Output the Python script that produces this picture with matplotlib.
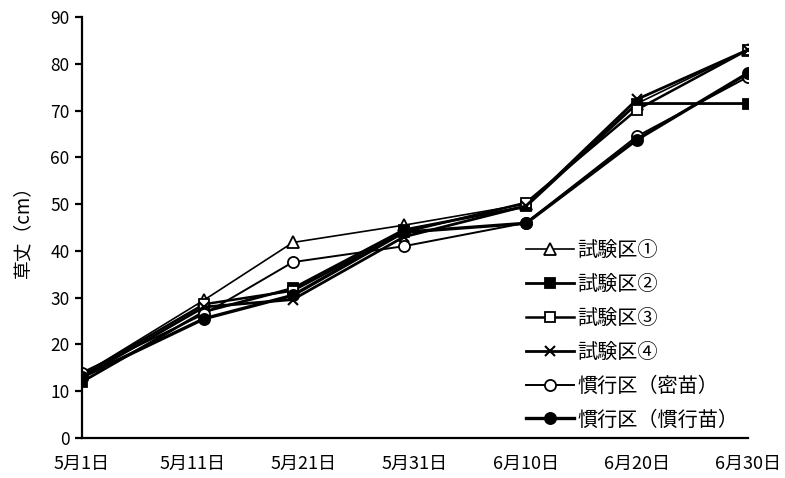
import datetime

import matplotlib

matplotlib.use("Agg")
import matplotlib.pyplot as plt

plt.rcParams["font.family"] = ["Noto Sans CJK JP", "DejaVu Sans"]

# measurement dates and plant height (cm)
dates = [
    datetime.date(2020, 5, 1),
    datetime.date(2020, 5, 12),
    datetime.date(2020, 5, 20),
    datetime.date(2020, 5, 30),
    datetime.date(2020, 6, 10),
    datetime.date(2020, 6, 20),
    datetime.date(2020, 6, 30),
]
plot1 = [13.5, 29.5, 41.8, 45.5, 50.0, 71.5, 83.0]
plot2 = [12.0, 27.0, 32.0, 44.5, 49.5, 71.5, 71.5]
plot3 = [13.5, 28.6, 31.5, 44.0, 50.3, 70.2, 83.0]
plot4 = [13.0, 28.0, 29.6, 43.0, 49.6, 72.4, 83.0]
conv_dense = [14.0, 26.5, 37.6, 41.0, 46.0, 64.5, 77.2]
conv_normal = [13.0, 25.5, 30.5, 44.0, 45.9, 63.8, 78.0]

tick_dates = [
    datetime.date(2020, 5, 1),
    datetime.date(2020, 5, 11),
    datetime.date(2020, 5, 21),
    datetime.date(2020, 5, 31),
    datetime.date(2020, 6, 10),
    datetime.date(2020, 6, 20),
    datetime.date(2020, 6, 30),
]
tick_labels = ["5月1日", "5月11日", "5月21日", "5月31日", "6月10日", "6月20日", "6月30日"]

fig = plt.figure(figsize=(7.85, 4.78), dpi=100)
ax = fig.add_axes([82 / 785, 40 / 478, 666 / 785, 421 / 478])

series = [
    (plot1, "試験区①", dict(marker="^", mfc="white", lw=1.2, ms=8)),
    (plot2, "試験区②", dict(marker="s", mfc="black", lw=2.0, ms=7.5)),
    (plot3, "試験区③", dict(marker="s", mfc="white", lw=1.8, ms=7.5)),
    (plot4, "試験区④", dict(marker="x", mfc="white", lw=2.0, ms=7.5, mew=1.5)),
    (conv_dense, "慣行区（密苗）", dict(marker="o", mfc="white", lw=1.4, ms=8)),
    (conv_normal, "慣行区（慣行苗）", dict(marker="o", mfc="black", lw=2.4, ms=8)),
]
for values, label, style in series:
    style.setdefault("mew", 1.3)
    ax.plot(dates, values, color="black", mec="black", label=label, **style)

ax.set_xlim(tick_dates[0], tick_dates[-1])
ax.set_ylim(0, 90)
ax.set_yticks(range(0, 91, 10))
ax.set_xticks(tick_dates)
ax.xaxis.set_major_formatter(plt.FixedFormatter(tick_labels))

for side in ("top", "right"):
    ax.spines[side].set_visible(False)
for side in ("left", "bottom"):
    ax.spines[side].set_linewidth(1.6)
ax.tick_params(axis="y", direction="out", length=5, width=1.6, labelsize=12.5, pad=4)
ax.tick_params(axis="x", length=0, labelsize=13, pad=12)

ax.set_ylabel("草丈（cm）", fontsize=13.5, labelpad=12)

fig.legend(
    loc="upper left",
    bbox_to_anchor=(516 / 785, 1 - 230 / 478),
    frameon=False,
    fontsize=14.5,
    handlelength=2.4,
    handletextpad=0.15,
    labelspacing=0.64,
    borderpad=0,
)

fig.savefig("out.png", dpi=100)
